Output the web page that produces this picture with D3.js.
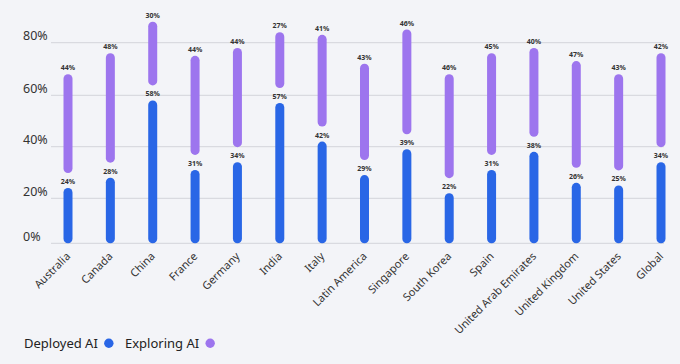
<!DOCTYPE html>
<html>
<head>
<meta charset="utf-8">
<script src="https://cdn.jsdelivr.net/npm/d3@7/dist/d3.min.js"></script>
<style>
  html, body { margin: 0; padding: 0; background: #f3f4f8; }
  svg { display: block; font-family: "Noto Sans", "Open Sans", sans-serif; }
</style>
</head>
<body>
<svg id="chart" width="680" height="364"></svg>
<script>
const categories = ["Australia", "Canada", "China", "France", "Germany", "India", "Italy",
  "Latin America", "Singapore", "South Korea", "Spain", "United Arab Emirates",
  "United Kingdom", "United States", "Global"];
const deployed = [24, 28, 58, 31, 34, 57, 42, 29, 39, 22, 31, 38, 26, 25, 34];
const exploring = [44, 48, 30, 44, 44, 27, 41, 43, 46, 46, 45, 40, 47, 43, 42];
const yTicks = [0, 20, 40, 60, 80];
const seriesNames = ["Deployed AI", "Exploring AI"];

const colors = { deployed: "#2966e6", exploring: "#9d75ee" };
const svg = d3.select("#chart");

const x = d3.scalePoint().domain(categories).range([68, 661]);
const y = d3.scaleLinear().domain(yTicks).range([243.3, 198.3, 146.7, 95.3, 42.7]);

const barW = 9;
const gap = 15;

// gridlines
svg.append("g").selectAll("line").data(yTicks).join("line")
  .attr("x1", 51).attr("x2", 664)
  .attr("y1", d => y(d)).attr("y2", d => y(d))
  .attr("stroke", "#d3d4da").attr("stroke-width", 1);

// y labels
svg.append("g").selectAll("text").data(yTicks).join("text")
  .attr("x", 23).attr("y", d => y(d) - 2.5)
  .attr("font-size", 12.5).attr("fill", "#333")
  .text(d => d + "%");

const data = categories.map((c, i) => ({ c, d: deployed[i], e: exploring[i] }));

// deployed bars
svg.append("g").selectAll("rect").data(data).join("rect")
  .attr("x", d => x(d.c) - barW / 2)
  .attr("y", d => y(d.d))
  .attr("width", barW)
  .attr("height", d => y(0) - y(d.d))
  .attr("rx", barW / 2)
  .attr("fill", colors.deployed);

// exploring bars
svg.append("g").selectAll("rect").data(data).join("rect")
  .attr("x", d => x(d.c) - barW / 2)
  .attr("y", d => y(d.d + d.e))
  .attr("width", barW)
  .attr("height", d => (y(d.d) - gap) - y(d.d + d.e))
  .attr("rx", barW / 2)
  .attr("fill", colors.exploring);

// value labels
const lbl = svg.append("g").attr("font-size", 7).attr("font-weight", "bold")
  .attr("fill", "#333").attr("text-anchor", "middle");
lbl.selectAll("text.d").data(data).join("text").attr("class", "d")
  .attr("x", d => x(d.c)).attr("y", d => y(d.d) - 4)
  .text(d => d.d + "%");
lbl.selectAll("text.e").data(data).join("text").attr("class", "e")
  .attr("x", d => x(d.c)).attr("y", d => y(d.d + d.e) - 4)
  .text(d => d.e + "%");

// x labels
svg.append("g").selectAll("text").data(categories).join("text")
  .attr("transform", d => `translate(${x(d) + 3},${257}) rotate(-45)`)
  .attr("text-anchor", "end")
  .attr("font-size", 11).attr("fill", "#333")
  .text(d => d);

// legend
const legend = svg.append("g").attr("font-size", 13).attr("fill", "#222");
const lx = [24, 125];
const lc = [colors.deployed, colors.exploring];
seriesNames.forEach((n, i) => {
  const t = legend.append("text").attr("x", lx[i]).attr("y", 347.5).text(n);
  const w = t.node().getComputedTextLength();
  legend.append("circle").attr("cx", lx[i] + w + 11).attr("cy", 343.3).attr("r", 4.7)
    .attr("fill", lc[i]);
});
</script>
</body>
</html>
